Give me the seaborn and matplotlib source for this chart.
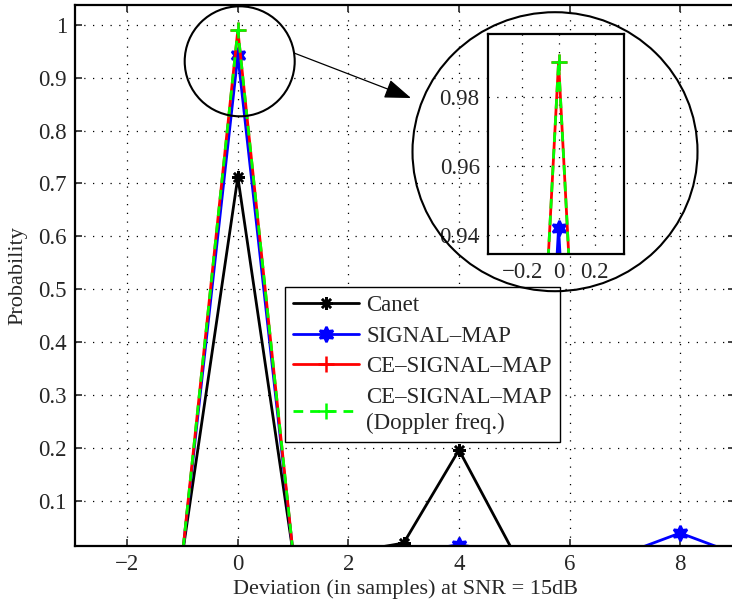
import matplotlib
matplotlib.use('Agg')
import matplotlib.pyplot as plt
import seaborn as sns
import pandas as pd
from matplotlib.patches import Ellipse, FancyArrowPatch
from matplotlib.lines import Line2D
from matplotlib.ticker import FuncFormatter

# --- data ---
deviation = [-3, -2, -1, 0, 1, 2, 3, 4, 5, 6, 7, 8, 9]
canet = [0, 0, 0, 0.712, 0, 0.002, 0.02, 0.196, 0, 0, 0, 0, 0]
signal_map = [0, 0, 0, 0.942, 0, 0, 0, 0.017, 0, 0, 0, 0.039, 0]
ce_signal_map = [0, 0, 0, 0.99, 0, 0, 0, 0, 0, 0, 0, 0, 0]
ce_doppler = [0, 0, 0, 0.99, 0, 0, 0, 0, 0, 0, 0, 0, 0]

labels = ["Canet", "SIGNAL\u2013MAP", "CE\u2013SIGNAL\u2013MAP",
          "CE\u2013SIGNAL\u2013MAP\n(Doppler freq.)"]

sns.set_style("white")
plt.rcParams['font.family'] = ['Liberation Serif', 'DejaVu Serif']
FS = 16.5

df = pd.DataFrame({"x": deviation, "canet": canet, "sig": signal_map,
                   "ce": ce_signal_map, "dop": ce_doppler})

styles = [
    ("canet", dict(color="black", marker=(8, 2, 0), markersize=9, linestyle="-", linewidth=2)),
    ("sig", dict(color="blue", marker=(6, 1, 0), markersize=11, linestyle="-", linewidth=2)),
    ("ce", dict(color="red", marker="+", markersize=11, linestyle="-", linewidth=2)),
    ("dop", dict(color=(0, 1, 0), marker="+", markersize=11, linestyle=(0, (3.5, 2.5)), linewidth=2)),
]


def draw_series(ax):
    for col, st in styles:
        sns.lineplot(data=df, x="x", y=col, ax=ax, estimator=None, sort=False,
                     markeredgecolor=st["color"], markeredgewidth=1.8,
                     markerfacecolor=st["color"], **st)


def style_axes(ax):
    ax.grid(True, color="black", linestyle=(0, (1, 6)), linewidth=0.9)
    for s in ax.spines.values():
        s.set_linewidth(1.6)
        s.set_color("black")
    ax.tick_params(direction="in", length=5, width=1.2, labelsize=FS,
                   top=True, right=True, bottom=True, left=True, pad=6)
    ax.set_xlabel("")
    ax.set_ylabel("")


fig = plt.figure(figsize=(7.32, 6.07), dpi=100)
W, H = 732, 607

# main axes
ax = fig.add_axes([75.3 / W, 1 - 545.7 / H, (735.4 - 75.3) / W, (545.7 - 4.7) / H])
draw_series(ax)
style_axes(ax)
ax.set_xlim(-2.94, 9.0)
ax.set_ylim(0.015, 1.038)
ax.set_xticks([-2, 0, 2, 4, 6, 8])
ax.set_yticks([0.1, 0.2, 0.3, 0.4, 0.5, 0.6, 0.7, 0.8, 0.9, 1.0])
ax.yaxis.set_major_formatter(FuncFormatter(lambda v, p: f"{v:g}"))
ax.set_xlabel("Deviation (in samples) at SNR = 15dB", fontsize=16, labelpad=3)
ax.set_ylabel("Probability", fontsize=16, labelpad=8)

# legend
handles = []
for col, st in styles:
    handles.append(Line2D([], [], color=st["color"], marker=st["marker"],
                          markersize=st["markersize"], linestyle=st["linestyle"],
                          linewidth=st["linewidth"], markeredgecolor=st["color"],
                          markeredgewidth=1.8))
leg = ax.legend(handles, labels, loc="upper left",
                bbox_to_anchor=(285 / W, 1 - 287 / H), bbox_transform=fig.transFigure,
                borderaxespad=0, fontsize=FS, fancybox=False, framealpha=1,
                edgecolor="black", handlelength=2.9, labelspacing=0.42,
                borderpad=0.35, handletextpad=0.3)
leg.get_frame().set_linewidth(1.0)
for t in leg.get_texts():
    t.set_linespacing(1.3)

# inset zoom
axin = fig.add_axes([488 / W, 1 - 254 / H, (623.7 - 488) / W, (254 - 34.3) / H])
axin.set_facecolor("white")
draw_series(axin)
style_axes(axin)
axin.tick_params(length=0)
axin.set_xlim(-0.39, 0.36)
axin.set_ylim(0.9345, 0.998)
axin.set_xticks([-0.2, 0, 0.2])
axin.set_yticks([0.94, 0.96, 0.98])
axin.xaxis.set_major_formatter(FuncFormatter(lambda v, p: f"{v:g}".replace("-", "\u2212")))
axin.yaxis.set_major_formatter(FuncFormatter(lambda v, p: f"{v:g}"))

# circles and arrow
fig.add_artist(Ellipse((239.7 / W, 1 - 61.3 / H), 110 / W, 110 / H,
                       transform=fig.transFigure, fill=False, edgecolor="black", linewidth=1.5))
fig.add_artist(Ellipse((555 / W, 1 - 151.7 / H), 285 / W, 279 / H,
                       transform=fig.transFigure, fill=False, edgecolor="black", linewidth=1.5))
fig.add_artist(FancyArrowPatch(
    (294 / W, 1 - 53 / H), (411 / W, 1 - 98 / H), transform=fig.transFigure,
    arrowstyle="-|>,head_length=1.1,head_width=0.4", mutation_scale=15,
    color="black", linewidth=0.9, shrinkA=0, shrinkB=0))

fig.savefig("out.png", dpi=100)
